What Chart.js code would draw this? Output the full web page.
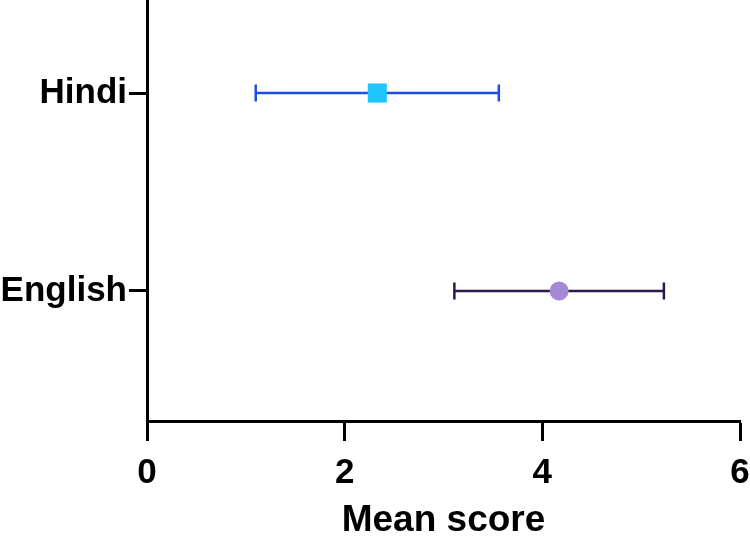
<!DOCTYPE html>
<html>
<head>
<meta charset="utf-8">
<script src="https://cdn.jsdelivr.net/npm/chart.js@4.4.1/dist/chart.umd.min.js"></script>
<style>
  html, body { margin: 0; padding: 0; background: #fff; }
  #wrap { width: 750px; height: 538px; }
</style>
</head>
<body>
<div id="wrap"><canvas id="chart"></canvas></div>
<script>
// categories, bottom to top position on the y scale
const categories = ['English', 'Hindi'];
const means = [4.17, 2.33];
const lowers = [3.11, 1.10];
const uppers = [5.23, 3.56];
const xTicks = [0, 2, 4, 6];

const lineColors = ['#2a1850', '#1f4ee0'];
const markerColors = ['#a48ad4', '#1ec6ff'];
const markerStyles = ['circle', 'rect'];

const FONT = 'Liberation Sans, Arial, Helvetica, sans-serif';

// error bars: drawn under the markers, from the scales
const errorBars = {
    id: 'errorBars',
    beforeDatasetsDraw(chart) {
        const ctx = chart.ctx;
        const xs = chart.scales.x;
        const ys = chart.scales.y;
        ctx.save();
        categories.forEach((c, i) => {
            const y = ys.getPixelForValue(i + 1);
            const x0 = xs.getPixelForValue(lowers[i]);
            const x1 = xs.getPixelForValue(uppers[i]);
            ctx.strokeStyle = lineColors[i];
            ctx.lineWidth = 2.5;
            ctx.beginPath();
            ctx.moveTo(x0, y);
            ctx.lineTo(x1, y);
            ctx.moveTo(x0, y - 8.5);
            ctx.lineTo(x0, y + 8.5);
            ctx.moveTo(x1, y - 8.5);
            ctx.lineTo(x1, y + 8.5);
            ctx.stroke();
        });
        ctx.restore();
    }
};

const ctx = document.getElementById('chart').getContext('2d');
const chart = new Chart(ctx, {
    type: 'scatter',
    data: {
        datasets: categories.map((c, i) => ({
            label: c,
            data: [{ x: means[i], y: i + 1 }],
            pointStyle: markerStyles[i],
            pointRadius: markerStyles[i] === 'rect' ? 13.5 : 9.5,
            backgroundColor: markerColors[i],
            borderColor: markerColors[i],
            borderWidth: 0
        }))
    },
    options: {
        responsive: true,
        maintainAspectRatio: false,
        animation: false,
        layout: { autoPadding: false, padding: { left: 0, right: 10, top: 0, bottom: 0 } },
        plugins: {
            legend: { display: false },
            tooltip: { enabled: false }
        },
        scales: {
            x: {
                type: 'linear',
                min: 0,
                max: 6,
                afterBuildTicks: s => { s.ticks = xTicks.map(v => ({ value: v })); },
                border: { color: '#000', width: 3 },
                grid: { drawOnChartArea: false, tickLength: 20, tickWidth: 3, tickColor: '#000' },
                ticks: {
                    color: '#000',
                    padding: 11,
                    font: { family: FONT, size: 35, weight: 'bold' }
                },
                title: {
                    display: true,
                    text: 'Mean score',
                    color: '#000',
                    padding: { top: 0, bottom: -5 },
                    font: { family: FONT, size: 37, weight: 'bold' }
                },
                afterFit: s => { s.height = 117; s.paddingLeft = 0; s.paddingRight = 0; }
            },
            y: {
                type: 'linear',
                min: 0.343,
                max: 2.47,
                afterBuildTicks: s => { s.ticks = [{ value: 1 }, { value: 2 }]; },
                border: { color: '#000', width: 3 },
                grid: { drawOnChartArea: false, tickLength: 18, tickWidth: 3, tickColor: '#000' },
                ticks: {
                    color: '#000',
                    padding: 2,
                    font: { family: FONT, size: 35, weight: 'bold' },
                    callback: v => categories[v - 1]
                },
                afterFit: s => { s.width = 147; s.paddingTop = 0; s.paddingBottom = 0; }
            }
        }
    },
    plugins: [errorBars]
});
</script>
</body>
</html>
